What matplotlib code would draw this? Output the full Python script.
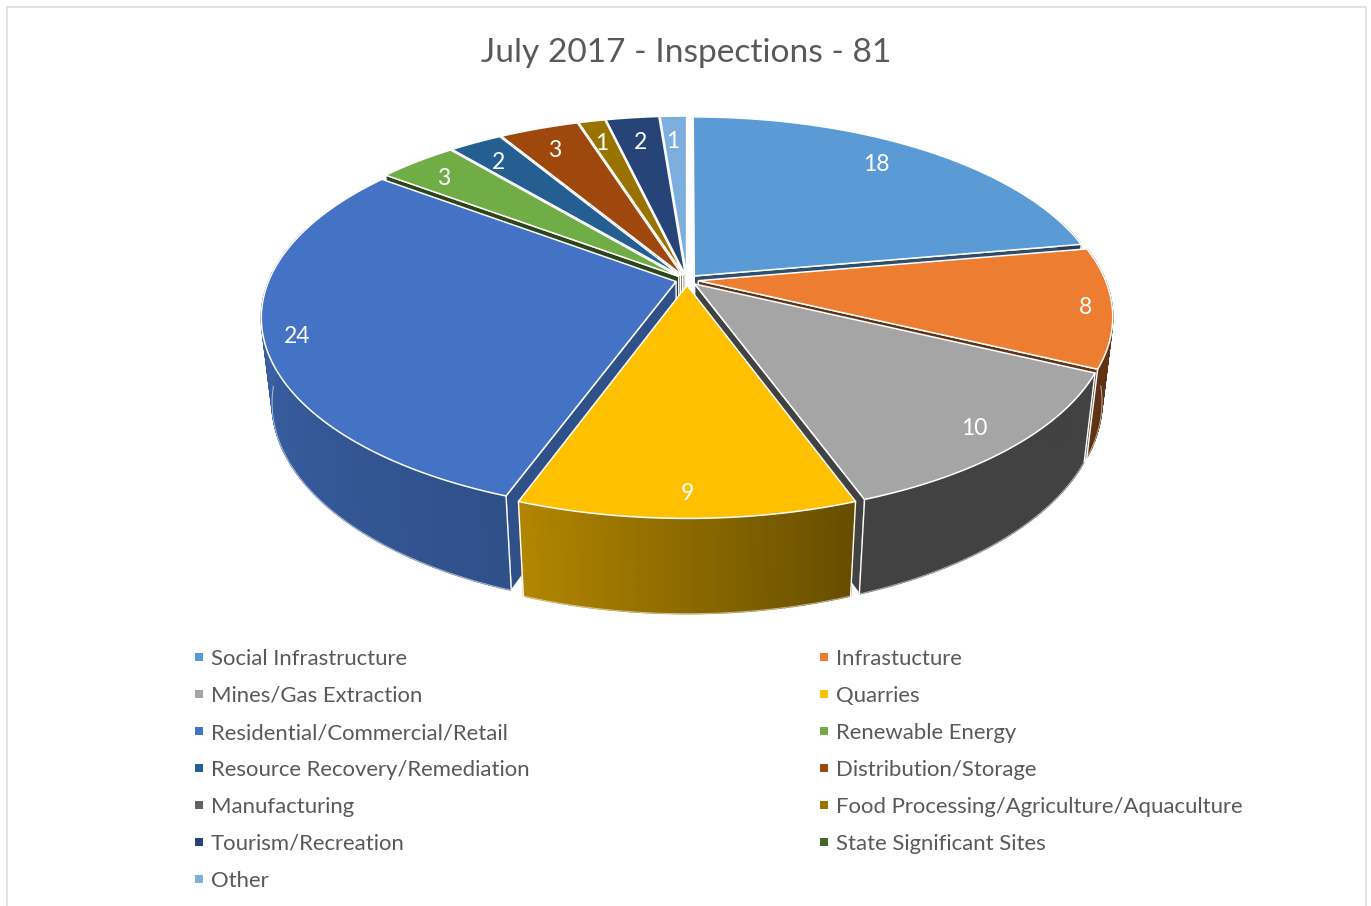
import numpy as np
import matplotlib
matplotlib.use("Agg")
import matplotlib.pyplot as plt
from matplotlib.colors import to_rgb
from matplotlib.patches import Polygon

categories = ["Social Infrastructure", "Infrastucture", "Mines/Gas Extraction", "Quarries",
              "Residential/Commercial/Retail", "Renewable Energy", "Resource Recovery/Remediation",
              "Distribution/Storage", "Manufacturing", "Food Processing/Agriculture/Aquaculture",
              "Tourism/Recreation", "State Significant Sites", "Other"]
values = [18, 8, 10, 9, 24, 3, 2, 3, 0, 1, 2, 0, 1]
colors = ["#5b9bd5", "#ed7d31", "#a5a5a5", "#ffc000", "#4472c4", "#70ad47", "#255e91",
          "#9e480e", "#636363", "#997300", "#264478", "#43682b", "#7cafdd"]
title = "July 2017 - Inspections - 81"

# layout of the fake 3D pie, all in pixels of the 1371x906 picture
CX, CY = 687, 280
KX, KY, KZ = 407, 189, 86
PERSP, PERSP_Z = 0.18, 0.025
EXPLODE = 0.028
LABEL_R = [0.874, 0.965, 0.92, 0.93, 0.95, 0.90, 0.885, 0.88, 0.86, 0.88, 0.86, 0.86, 0.86]
LABEL_TURN = [-3.2, 0, 0, 0, 0, -0.9, -0.6, -0.5, 0, -0.4, 0, 0, -0.4]
FONT = "Lato"


def project(x, y, z):
    w = 1 + PERSP * y + PERSP_Z * z
    return CX + KX * x / w, CY - KY * y / w + KZ * z / w


def rim_shade(a):
    return np.interp(a, [100, 160, 200, 270], [0.40, 0.40, 0.70, 0.85])


def face_shade(a):
    return np.interp(a % 360, [110, 170, 205, 250], [0.70, 0.50, 0.40, 0.40])


def dark(col, f):
    return tuple(c * f for c in to_rgb(col))


fig = plt.figure(figsize=(13.71, 9.06), dpi=100)
ax = fig.add_axes([0, 0, 1, 1])
ax.set_xlim(0, 1371)
ax.set_ylim(906, 0)
ax.axis("off")

# chart frame
ax.plot([6.5, 6.5, 1365.5, 1365.5], [906, 7, 7, 906], color="#d9d9d9", lw=1.1, zorder=1)

ax.text(686, 53, title, ha="center", va="center", fontsize=24.1, color="#595959", family=FONT)

edges = np.cumsum([0] + values) / sum(values) * 360
slices = [i for i in range(len(values)) if values[i] > 0]
mids = {i: np.radians((edges[i] + edges[i + 1]) / 2) for i in slices}
slices.sort(key=lambda i: -np.cos(mids[i]))

z = 2
for i in slices:
    a0, a1 = edges[i], edges[i + 1]
    ox, oy = EXPLODE * np.sin(mids[i]), EXPLODE * np.cos(mids[i])
    ang = np.linspace(a0, a1, int(a1 - a0) * 2 + 2)
    xs = ox + np.sin(np.radians(ang))
    ys = oy + np.cos(np.radians(ang))

    # cut faces, only the ones turned to the viewer
    for a, normal in [(a0, a0 - 90), (a1, a1 + 90)]:
        if np.cos(np.radians(normal)) < -0.01:
            ex, ey = ox + np.sin(np.radians(a)), oy + np.cos(np.radians(a))
            p = [project(ox, oy, 0), project(ex, ey, 0), project(ex, ey, 1), project(ox, oy, 1)]
            ax.add_patch(Polygon(p, fc=dark(colors[i], face_shade(normal)), ec="white", lw=1.0, zorder=z))
            z += 1

    # outer wall, small strips so the shading runs along it
    front = np.cos(np.radians(ang)) < 0.3
    for k in range(len(ang) - 1):
        if front[k] and front[k + 1]:
            p = [project(xs[k], ys[k], 0), project(xs[k + 1], ys[k + 1], 0),
                 project(xs[k + 1], ys[k + 1], 1), project(xs[k], ys[k], 1)]
            col = dark(colors[i], rim_shade((ang[k] + ang[k + 1]) / 2))
            ax.add_patch(Polygon(p, fc=col, ec=col, lw=1.0, zorder=z))
    z += 1
    low = np.cos(np.radians(ang)) < -0.1
    if low.any():
        bx, by = project(xs[low], ys[low], 1)
        ax.plot(bx, by, color="white", lw=0.7, alpha=0.6, zorder=z)
    if front.any():
        for k in (0, -1):
            if front[k]:
                ax.plot(*zip(project(xs[k], ys[k], 0), project(xs[k], ys[k], 1)),
                        color="white", lw=1.0, zorder=z)
        z += 1

    # top of the slice
    tx, ty = project(xs, ys, 0)
    ap = project(ox, oy, 0)
    top = np.column_stack([np.r_[ap[0], tx], np.r_[ap[1], ty]])
    ax.add_patch(Polygon(top, fc=colors[i], ec="white", lw=1.1, zorder=z))
    z += 1

# value labels
for i in slices:
    r = LABEL_R[i]
    m = mids[i] + np.radians(LABEL_TURN[i])
    lx, ly = project(r * np.sin(m), r * np.cos(m), 0)
    ax.text(lx, ly + 2, str(values[i]), ha="center", va="center", fontsize=16.5, color="white",
            family=FONT, zorder=z)

# legend, two columns filled row by row
for i, name in enumerate(categories):
    col_x = 195 if i % 2 == 0 else 820
    row_y = 657 + 37 * (i // 2)
    ax.add_patch(Polygon([(col_x, row_y - 4), (col_x + 8, row_y - 4), (col_x + 8, row_y + 4), (col_x, row_y + 4)],
                         fc=colors[i], ec="none", zorder=z))
    ax.text(col_x + 16, row_y + 2, name, ha="left", va="center", fontsize=15.9, color="#595959",
            family=FONT, zorder=z)

fig.savefig("out.png", dpi=100)
